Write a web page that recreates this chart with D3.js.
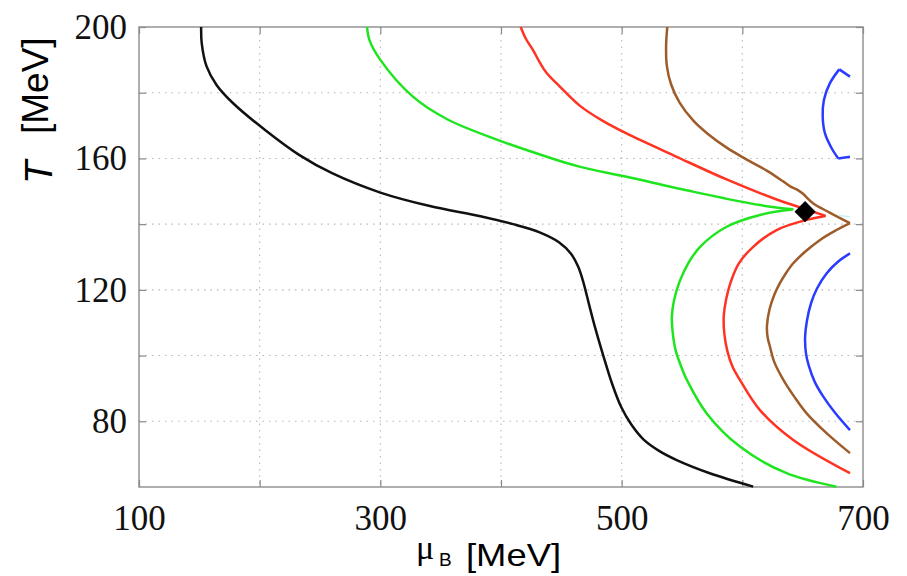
<!DOCTYPE html>
<html lang="en">
<head>
    <meta charset="UTF-8">
    <title>Phase diagram contours</title>
    <script src="https://d3js.org/d3.v7.min.js"></script>
    <style>
        body { margin: 0; background: #fff; }
        .tick text { font-family: "Liberation Serif", "Times New Roman", serif; font-size: 35px; fill: #111; }
        .tick line { stroke: #888; stroke-width: 1.2px; }
    </style>
</head>
<body>
    <svg width="907" height="576"></svg>

    <script>
        // contour branches, [mu_B, T] in MeV; split at the cusps so the corners stay sharp
        const blackBranch = [
            [151.5, 200], [152, 195], [156, 188], [164.4, 182.3], [178, 176.8], [205, 168.5],
            [233, 161], [260, 155.5], [300, 149.6], [341, 145.5], [383, 142.4], [410, 140],
            [432, 137.5], [448, 134.5], [458, 131], [464, 127], [468.5, 122], [473, 115.5],
            [478, 108.5], [485, 99.7], [492, 91.5], [499.5, 84.4], [508, 79], [518, 74.5],
            [531, 71], [545.6, 68.2], [573, 64.2], [609, 60.1]
        ];
        const greenUpper = [
            [289, 200], [291, 196], [300, 190], [327, 178.8], [355, 172], [396, 165.8], [438, 160.5],
            [465, 157.5], [504, 154.4], [559, 149.9], [614.6, 145.8], [642.2, 144.5]
        ];
        const greenLower = [
            [642.2, 144.5], [614.6, 142.8], [587, 139.2], [565, 133.1], [555, 128], [548, 122.5],
            [543.5, 117], [541.6, 112], [542.3, 107], [544.8, 101.5], [549.5, 96.5], [554, 92.6],
            [570.5, 82.4], [598, 72.3], [636.7, 64.2], [678, 60.1]
        ];
        const redUpper = [
            [416.3, 200], [420.5, 196.5], [426.8, 192.8], [432, 189.3], [438, 185.9], [449, 181.8],
            [465.5, 176], [484, 171.5], [504, 167.6], [545.6, 160.5], [587, 153.6], [628.4, 147.5],
            [650.5, 144.8], [669, 142.5]
        ];
        const redLower = [
            [669, 142.5], [653.3, 141.3], [628.4, 138.2], [609, 133.1], [597, 128], [590.5, 122.5],
            [586.5, 117], [584.6, 112], [585, 107], [587.5, 101.5], [592, 96.5], [598, 92.6],
            [614.6, 83.4], [642.2, 74.3], [689.2, 64.2]
        ];
        const brownUpper = [
            [537.8, 200], [536.8, 194], [537.5, 188], [541, 182.5], [548, 177], [559.4, 171.5],
            [572, 167.3], [587, 163.3], [603, 159.8], [620.2, 156.3], [633, 153.2], [640, 151.4],
            [645, 150.6], [650, 149.3], [658.8, 146.3], [672, 143.6], [689.2, 140.3]
        ];
        const brownLower = [
            [689.2, 140.3], [676, 137.8], [664.4, 135.2], [652, 131.6], [642.2, 128.1], [636, 125],
            [631, 122], [626.5, 118.5], [622.5, 114], [620.4, 109], [621, 105.5], [622.9, 102.7],
            [626.5, 98], [634, 92.6], [643, 87.5], [653.3, 82.4], [670, 76.3], [689.2, 70.3]
        ];
        const blueHookTop = [[689.2, 184.9], [680.3, 187.1]];
        const blueArc = [
            [680.3, 187.1], [672.6, 182.9], [667.6, 177.8], [666.6, 172.7], [668.5, 167.6],
            [674, 163.1], [679.5, 160]
        ];
        const blueHookBottom = [[679.5, 160], [689.2, 160.5]];
        const blueLower = [
            [689.2, 131.1], [679, 128.5], [669.8, 125], [662, 120.5], [657, 116], [653.5, 110.5],
            [652, 105.5], [652.8, 100.5], [655, 97], [660, 92], [667.1, 87.5], [677, 82.5], [689.2, 77.3]
        ];
        const cyanStub = [[680, 142.6], [689.2, 142.3]];

        const criticalPoint = [652, 143.8];

        const xTicks = [100, 200, 300, 400, 500, 600, 700];
        const xLabels = [100, 300, 500, 700];
        const yTicks = [80, 100, 120, 140, 160, 180, 200];
        const yLabels = [80, 120, 160, 200];

        const series = [
            { pts: blackBranch, color: "#111111", w: 2.5 },
            { pts: greenUpper, color: "#1fe51f", w: 2.5 },
            { pts: greenLower, color: "#1fe51f", w: 2.5 },
            { pts: redUpper, color: "#ff3322", w: 2.5 },
            { pts: redLower, color: "#ff3322", w: 2.5 },
            { pts: brownUpper, color: "#9e5c2a", w: 2.5 },
            { pts: brownLower, color: "#9e5c2a", w: 2.5 },
            { pts: blueHookTop, color: "#2a3cff", w: 2.5 },
            { pts: blueArc, color: "#2a3cff", w: 2.5 },
            { pts: blueHookBottom, color: "#2a3cff", w: 2.5 },
            { pts: blueLower, color: "#2a3cff", w: 2.5 },
            { pts: cyanStub, color: "#b8f2f2", w: 1.2 }
        ];

        const plotL = 139, plotR = 863, plotT = 27, plotB = 487;
        const svg = d3.select("svg");

        const x = d3.scaleLinear().domain([100, 700]).range([plotL, plotR]);
        const y = d3.scaleLinear().domain([60, 200]).range([plotB, plotT]);

        // dotted grid
        const grid = svg.append("g").attr("stroke", "#b8b8b8").attr("stroke-width", 1.1)
            .attr("stroke-dasharray", "1.5,5");
        grid.selectAll("line.v").data(xTicks.slice(1, -1)).enter().append("line")
            .attr("x1", d => x(d)).attr("x2", d => x(d)).attr("y1", plotT).attr("y2", plotB);
        grid.selectAll("line.h").data(yTicks.slice(0, -1)).enter().append("line")
            .attr("x1", plotL).attr("x2", plotR).attr("y1", d => y(d)).attr("y2", d => y(d));

        // axes with inward ticks
        const fmtX = d => xLabels.includes(d) ? d : "";
        const fmtY = d => yLabels.includes(d) ? d : "";

        svg.append("g").attr("transform", `translate(0,${plotB})`)
            .call(d3.axisBottom(x).tickValues(xTicks).tickFormat(fmtX).tickSizeInner(-7).tickSizeOuter(0).tickPadding(18))
            .call(g => g.select(".domain").remove());
        svg.append("g").attr("transform", `translate(0,${plotT})`)
            .call(d3.axisTop(x).tickValues(xTicks).tickFormat("").tickSizeInner(-7).tickSizeOuter(0))
            .call(g => g.select(".domain").remove());
        svg.append("g").attr("transform", `translate(${plotL},0)`)
            .call(d3.axisLeft(y).tickValues(yTicks).tickFormat(fmtY).tickSizeInner(-7).tickSizeOuter(0).tickPadding(12))
            .call(g => g.select(".domain").remove());
        svg.append("g").attr("transform", `translate(${plotR},0)`)
            .call(d3.axisRight(y).tickValues(yTicks).tickFormat("").tickSizeInner(-7).tickSizeOuter(0))
            .call(g => g.select(".domain").remove());

        // frame
        svg.append("rect")
            .attr("x", plotL).attr("y", plotT).attr("width", plotR - plotL).attr("height", plotB - plotT)
            .attr("fill", "none").attr("stroke", "#8c8c8c").attr("stroke-width", 1.4);

        // contours
        const line = d3.line()
            .x(d => x(d[0]))
            .y(d => y(d[1]))
            .curve(d3.curveCatmullRom.alpha(0.5));

        svg.append("g").selectAll("path")
            .data(series)
            .enter().append("path")
            .attr("d", d => line(d.pts))
            .attr("fill", "none")
            .attr("stroke", d => d.color)
            .attr("stroke-width", d => d.w)
            .attr("stroke-linejoin", "round");

        // critical end point
        svg.append("path")
            .attr("d", d3.symbol().type(d3.symbolSquare).size(225)())
            .attr("transform", `translate(${x(criticalPoint[0])},${y(criticalPoint[1])}) rotate(45)`)
            .attr("fill", "#000");

        // x axis title: mu_B [MeV]
        const xt = svg.append("g");
        xt.append("text").attr("x", 416).attr("y", 559)
            .attr("font-family", "Liberation Serif, serif").attr("font-size", 34)
            .text("μ");
        xt.append("text").attr("x", 439).attr("y", 566)
            .attr("font-family", "Liberation Sans, Arial, sans-serif").attr("font-size", 19)
            .text("B");
        xt.append("text").attr("x", 466).attr("y", 566)
            .attr("font-family", "Liberation Sans, Arial, sans-serif").attr("font-size", 32)
            .attr("textLength", 95).attr("lengthAdjust", "spacingAndGlyphs")
            .text("[MeV]");

        // y axis title: T [MeV]
        svg.append("text")
            .attr("transform", "translate(52,184) rotate(-90)")
            .attr("font-family", "Liberation Sans, Arial, sans-serif").attr("font-size", 38)
            .attr("font-style", "italic").text("T");
        svg.append("text")
            .attr("transform", "translate(48,134) rotate(-90)")
            .attr("font-family", "Liberation Sans, Arial, sans-serif").attr("font-size", 37)
            .text("[MeV]");
    </script>
</body>
</html>
